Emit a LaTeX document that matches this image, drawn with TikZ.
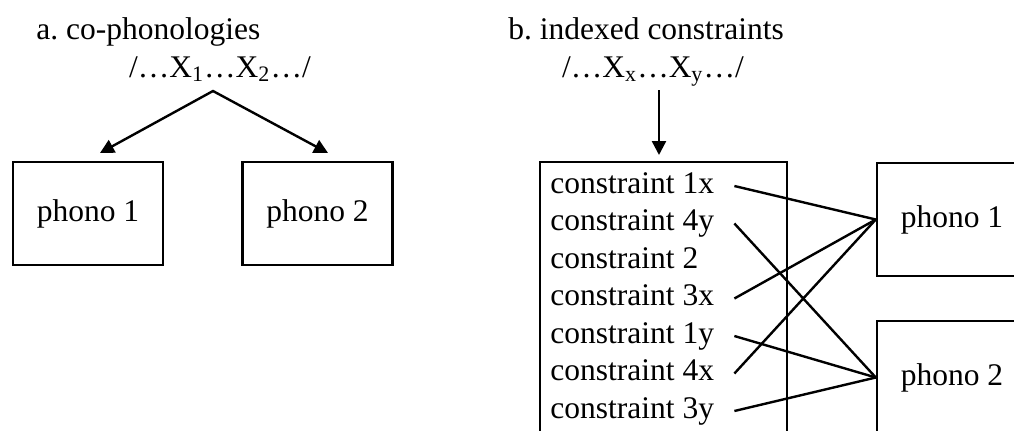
\documentclass[tikz,border=0pt]{standalone}
\usepackage{fontspec}
\setmainfont{Liberation Serif}
\usepackage{tikz}
\usetikzlibrary{positioning,calc}
\usetikzlibrary{arrows.meta}
\tikzstyle{arrow} = [line width=1.2pt,>={Triangle[length=7pt,width=7pt]}]
\tikzstyle{link} = [line width=1.2pt]
\frenchspacing

\begin{document}
\begin{tikzpicture}[x=0.5pt,y=-0.5pt,font=\fontsize{15.75}{18.5}\selectfont,
	box/.style 2 args={draw, line width=1.2pt, minimum width=#1, minimum height=#2, inner sep=0pt, align=center},
	cname/.style={inner xsep=10pt, inner ysep=0pt, text height=11pt, text depth=4pt}]
			
			\clip (0,0) rectangle (1014,430);
			
			% CO-PHONOLOGIES
			
			\node [anchor=base west, inner sep=0pt] (titlea) at (36,39.5) {a. co-phonologies};
			\node [anchor=base, inner sep=2pt] (forma) at (220,77) {/…X\textsubscript{1}…X\textsubscript{2}…/};
			
			\node [box={75pt}{51.5pt}] (phonoa1) at (88,213.5) {phono 1};
			\node [box={75pt}{51.5pt}] (phonoa2) at (317.5,213.5) {phono 2};
			
			\coordinate (apexa) at (213,91);
			\coordinate (tipa1) at (100,153);
			\coordinate (tipa2) at (328,153);
			\draw [arrow,<->] (tipa1) -- (apexa) -- (tipa2);
			
			% INDEXED CONSTRAINTS
			
			\node [anchor=base west, inner sep=0pt] (titleb) at (508,39.5) {b. indexed constraints};
			\node [anchor=base, inner sep=2pt] (formb) at (653,77) {/…X\textsubscript{x}…X\textsubscript{y}…/};
			
			\node [box={123.5pt}{140pt}] (cbox) at (663.5,302) {};
			\coordinate (tipb) at (659,155);
			\draw [arrow,->] (formb.south -| tipb) -- (tipb);
			
			\node [cname, anchor=base west] (c1x) at (530,193) {constraint 1x};
			\node [cname, below=3.35pt of c1x.south west, anchor=north west] (c4y) {constraint 4y};
			\node [cname, below=3.35pt of c4y.south west, anchor=north west] (c2) {constraint 2};
			\node [cname, below=3.35pt of c2.south west, anchor=north west] (c3x) {constraint 3x};
			\node [cname, below=3.35pt of c3x.south west, anchor=north west] (c1y) {constraint 1y};
			\node [cname, below=3.35pt of c1y.south west, anchor=north west] (c4x) {constraint 4x};
			\node [cname, below=3.35pt of c4x.south west, anchor=north west] (c3y) {constraint 3y};
			
			\node [box={75pt}{56.5pt}] (phonob1) at (952,219.5) {phono 1};
			\node [box={75pt}{56.5pt}] (phonob2) at (952,377.5) {phono 2};
			
			\draw [link] (c1x.east) -- (phonob1.west);
			\draw [link] (c3x.east) -- (phonob1.west);
			\draw [link] (c4x.east) -- (phonob1.west);
			\draw [link] (c4y.east) -- (phonob2.west);
			\draw [link] (c1y.east) -- (phonob2.west);
			\draw [link] (c3y.east) -- (phonob2.west);
			
\end{tikzpicture}
\end{document}
